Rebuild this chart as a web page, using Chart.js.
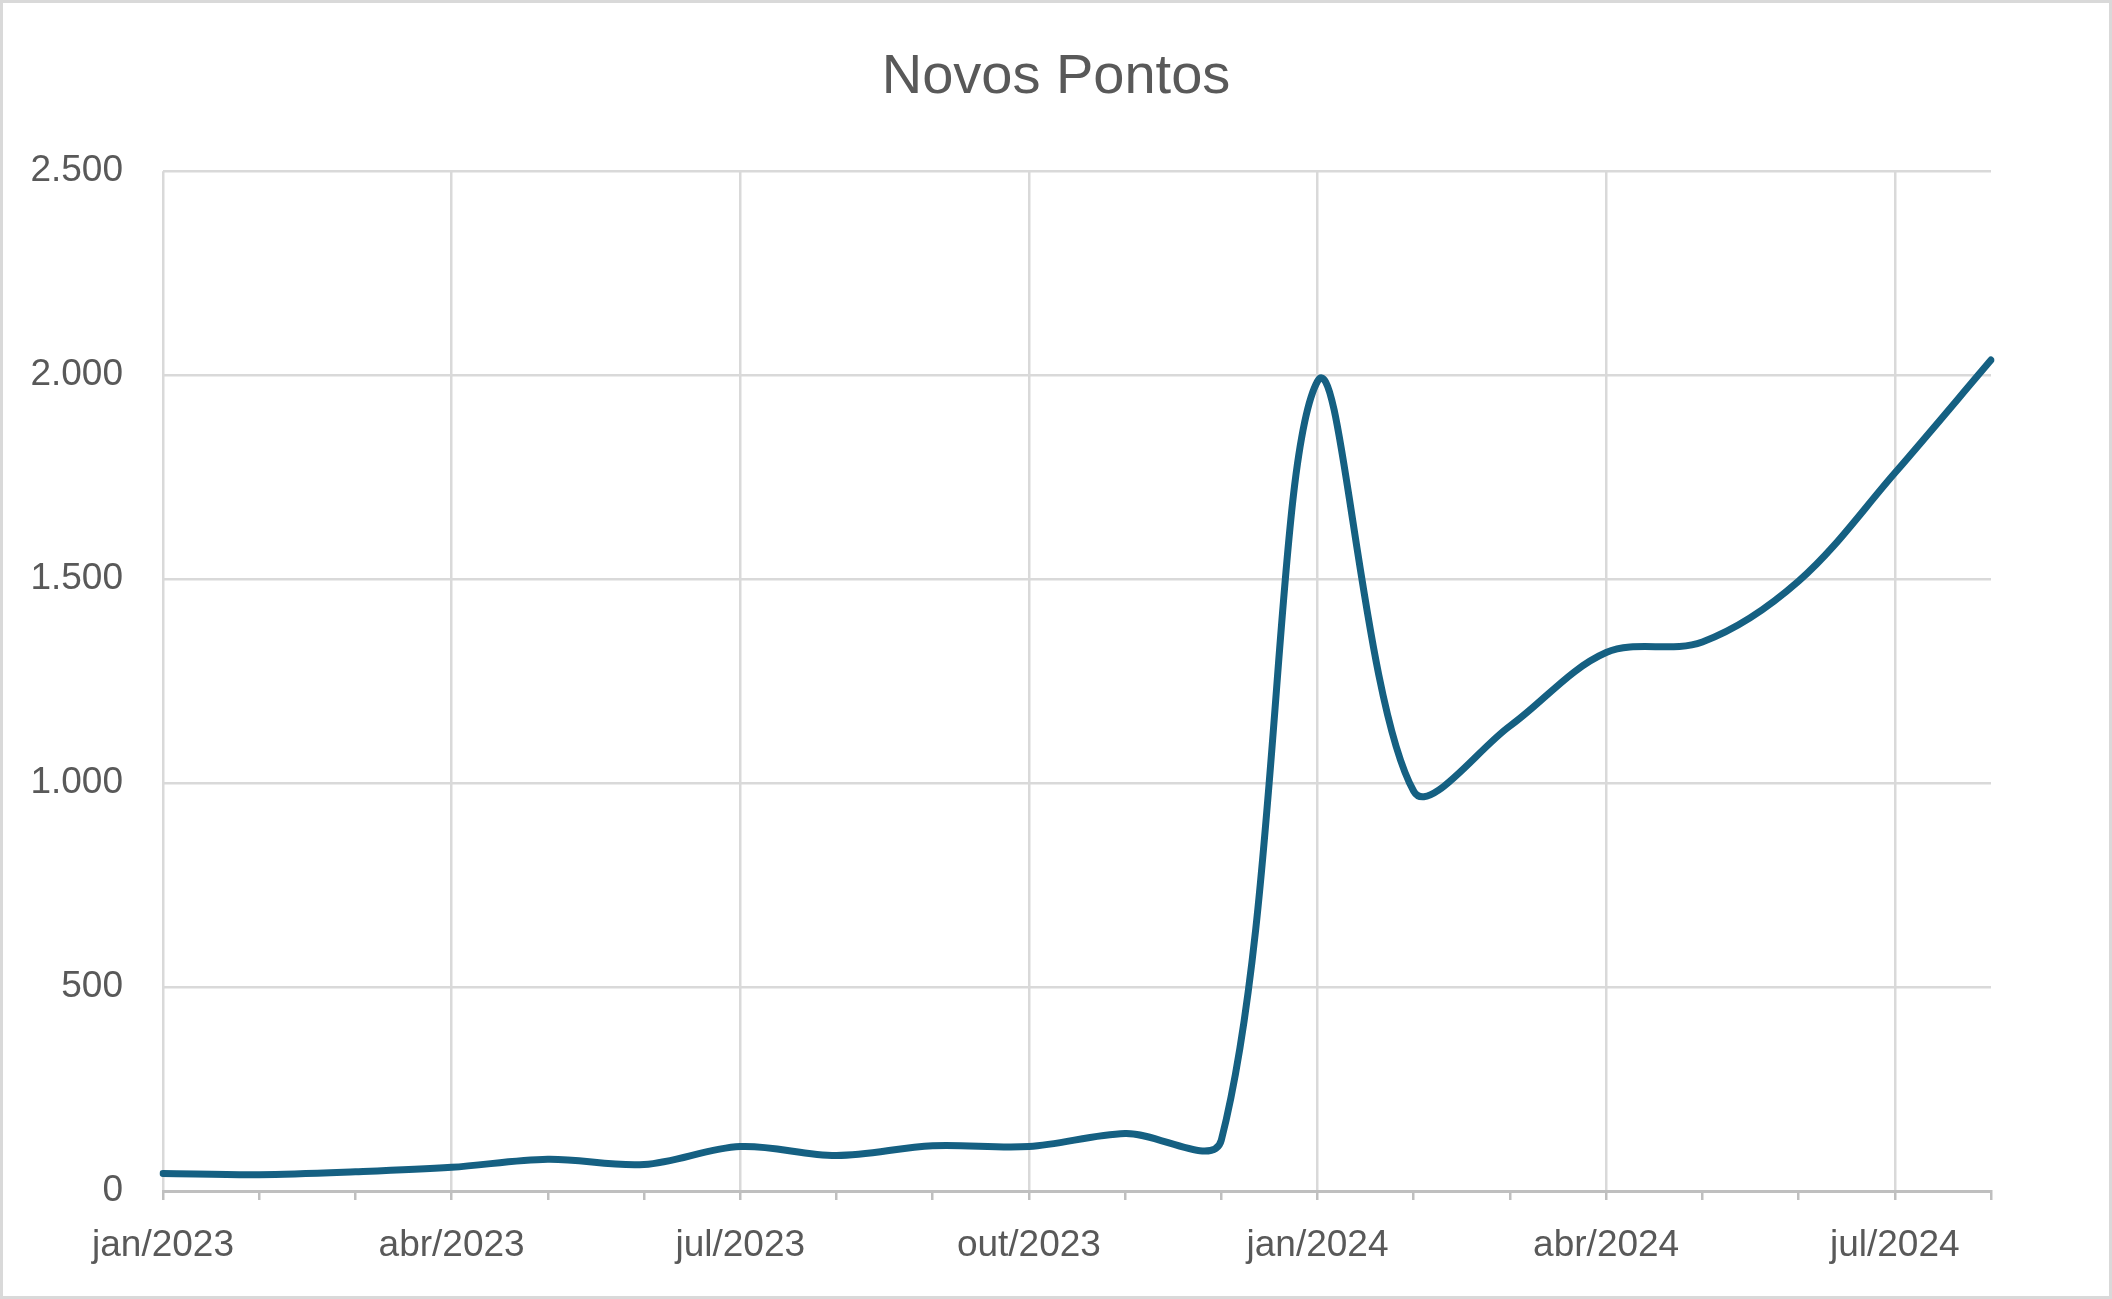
<!DOCTYPE html>
<html lang="pt">
<head>
<meta charset="utf-8">
<title>Novos Pontos</title>
<script src="https://cdn.jsdelivr.net/npm/chart.js@4"></script>
<style>
    html, body { margin: 0; padding: 0; background: #fff; }
    canvas { display: block; }
</style>
</head>
<body>
<canvas id="pontos-chart" width="2112" height="1299"></canvas>
<script>
// Months on the x axis (every month is a point, only every third one is labelled)
const months = [
    'jan/2023', 'fev/2023', 'mar/2023', 'abr/2023', 'mai/2023', 'jun/2023',
    'jul/2023', 'ago/2023', 'set/2023', 'out/2023', 'nov/2023', 'dez/2023',
    'jan/2024', 'fev/2024', 'mar/2024', 'abr/2024', 'mai/2024', 'jun/2024',
    'jul/2024', 'ago/2024'
];

// Novos pontos per month
const novosPontos = [
    43, 40, 47, 58, 78, 65,
    109, 87, 111, 109, 141, 125,
    1985, 980, 1140, 1320, 1346, 1495,
    1760, 2037
];

const yTicks = [0, 500, 1000, 1500, 2000, 2500];

const TEXT_COLOR = '#595959';
const GRID_COLOR = '#d9d9d9';
const AXIS_COLOR = '#bfbfbf';
const LINE_COLOR = '#156082';
const FONT = "'Liberation Sans', Arial, sans-serif";

/**
 * Formats a number with a dot as thousands separator (pt-BR)
 * @param {number} value
 * @returns {string}
 */
function formatThousands(value) {
    return String(value).replace(/\B(?=(\d{3})+(?!\d))/g, '.');
}

/**
 * Draws the light grey frame round the whole chart
 */
const framePlugin = {
    id: 'frame',
    afterDraw(chart) {
        const ctx = chart.ctx;
        ctx.save();
        ctx.strokeStyle = GRID_COLOR;
        ctx.lineWidth = 3;
        ctx.strokeRect(1.5, 1.5, chart.width - 3, chart.height - 3);
        ctx.restore();
    }
};

const ctx = document.getElementById('pontos-chart');

new Chart(ctx, {
    type: 'line',
    data: {
        labels: months,
        datasets: [{
            label: 'Novos Pontos',
            data: novosPontos,
            borderColor: LINE_COLOR,
            borderWidth: 7,
            borderCapStyle: 'round',
            borderJoinStyle: 'round',
            pointRadius: 0,
            fill: false,
            tension: 0.34
        }]
    },
    options: {
        responsive: false,
        animation: false,
        devicePixelRatio: 1,
        layout: {
            padding: 0
        },
        plugins: {
            legend: { display: false },
            tooltip: { enabled: false },
            title: {
                display: true,
                text: 'Novos Pontos',
                color: TEXT_COLOR,
                font: { family: FONT, size: 56, weight: 'normal' },
                padding: { top: 44, bottom: 60 }
            }
        },
        scales: {
            x: {
                offset: false,
                border: { display: true, color: AXIS_COLOR, width: 3 },
                grid: {
                    color: c => (c.index % 3 === 0 ? GRID_COLOR : 'transparent'),
                    tickColor: AXIS_COLOR,
                    lineWidth: 2.5,
                    tickWidth: 2.5,
                    tickLength: 9
                },
                ticks: {
                    autoSkip: false,
                    maxRotation: 0,
                    color: TEXT_COLOR,
                    font: { family: FONT, size: 37 },
                    padding: 24,
                    callback: function(value, index) {
                        return index % 3 === 0 ? months[index] : '';
                    }
                },
                afterFit: function(scale) {
                    scale.height = 108;
                }
            },
            y: {
                min: 0,
                max: 2500,
                border: { display: false },
                grid: {
                    color: GRID_COLOR,
                    lineWidth: 2.5,
                    drawTicks: false
                },
                afterBuildTicks: function(scale) {
                    scale.ticks = yTicks.map(v => ({ value: v }));
                },
                ticks: {
                    color: TEXT_COLOR,
                    font: { family: FONT, size: 37 },
                    padding: 40,
                    callback: function(value) {
                        return formatThousands(value);
                    }
                },
                afterFit: function(scale) {
                    scale.width = 163;
                }
            },
            // empty right-hand axis, only reserves the margin right of the plot
            yRight: {
                position: 'right',
                display: true,
                grid: { display: false, drawTicks: false },
                border: { display: false },
                ticks: { display: false },
                afterFit: function(scale) {
                    scale.width = 121;
                }
            }
        }
    },
    plugins: [framePlugin]
});
</script>
</body>
</html>
